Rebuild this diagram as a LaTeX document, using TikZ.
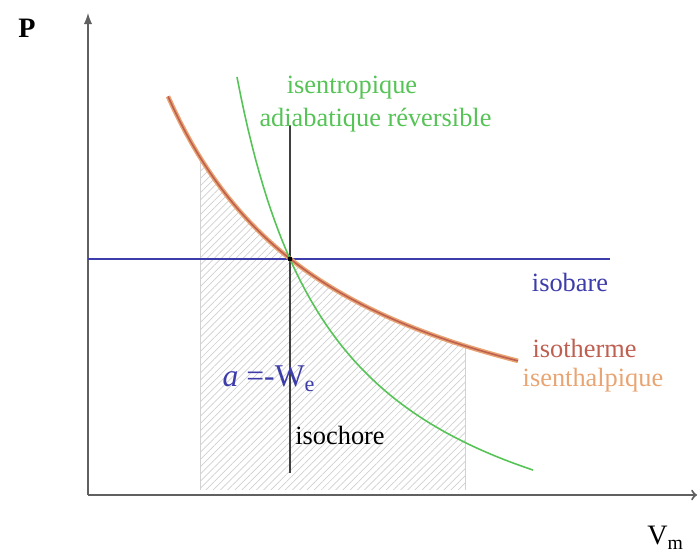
\documentclass[tikz,border=0pt]{standalone}
\usepackage{fontspec}
\setmainfont{Liberation Serif}
\usetikzlibrary{patterns.meta}
\definecolor{xanhla}{RGB}{85,195,85}
\definecolor{xanhduong}{RGB}{60,60,170}
\definecolor{dotham}{RGB}{190,95,80}
\definecolor{cam}{RGB}{232,165,115}

\begin{document}
\begin{tikzpicture}[>=to,
    nhan/.style={font=\fontsize{15}{18}\selectfont, inner sep=0pt}]
    % Khung hình
    \useasboundingbox (-1.76,-1.28) rectangle (12.22,9.9);

    % ==================== MIỀN GẠCH CHÉO (CÔNG) ====================
    \begin{scope}
        \clip (2.24,0) rectangle (7.54,9);
        \fill[pattern={Lines[angle=45, distance=2.9pt, line width=0.4pt]}, pattern color=gray!38]
            plot[domain=2:8, samples=40] (\x, {28.3/(\x+1.95)})
            -- (8,0.1) -- (2,0.1) -- cycle;
    \end{scope}
    \draw[gray!35] (2.24,0.1) -- (2.24,{28.3/4.19});
    \draw[gray!35] (7.54,0.1) -- (7.54,{28.3/9.49});

    % ==================== HỆ TRỤC ====================
    \coordinate (O) at (0,0);
    \coordinate (xmax) at (12.18,0);
    \coordinate (ymax) at (0,9.64);
    \draw[->, gray!75!black, line width=1.2pt] (O) -- (xmax);
    \draw[-latex, gray!75!black, line width=1.2pt] (O) -- (ymax);
    \node[font=\fontsize{16}{18}\selectfont\bfseries] (P) at (-1.22,9.34) {P};
    \node[font=\fontsize{16}{18}\selectfont] (Vm) at (11.55,-0.86) {V\textsubscript{m}};

    % ==================== ISOBARE & ISOCHORE ====================
    \coordinate (A) at (4.04,4.72);
    \draw[xanhduong, line width=0.8pt] (0,4.72) -- (10.44,4.72);
    \draw[black!75, line width=1pt] (4.04,7.4) -- (4.04,0.44);

    % ==================== ISOTHERME / ISENTHALPIQUE ====================
    \draw[cam, line width=2.6pt] plot[domain=1.6:8.6, samples=60] (\x, {28.3/(\x+1.95)});
    \draw[dotham, line width=0.9pt] plot[domain=1.6:8.6, samples=60] (\x, {28.3/(\x+1.95)});

    % ==================== ISENTROPIQUE ====================
    \draw[xanhla, line width=0.9pt] plot[domain=2.98:8.9, samples=80] (\x, {-2.16+21.07/(\x-0.977)});

    % Điểm giao
    \fill (A) circle (1.4pt);

    % ==================== NHÃN ====================
    \node[nhan, text=xanhla] (isen) at (5.28,8.14) {isentropique};
    \node[nhan, text=xanhla] (adia) at (5.75,7.5) {adiabatique réversible};
    \node[nhan, text=xanhduong] (isob) at (9.64,4.26) {isobare};
    \node[nhan, text=dotham] (isot) at (9.93,2.94) {isotherme};
    \node[nhan, text=cam] (isenth) at (10.1,2.3) {isenthalpique};
    \node[nhan, anchor=west] (isoc) at (4.14,1.2) {isochore};
    \node[nhan, text=xanhduong, font=\fontsize{18}{20}\selectfont] (cong) at (3.62,2.32)
        {\textit{a} =-W\textsubscript{e}};
\end{tikzpicture}
\end{document}
